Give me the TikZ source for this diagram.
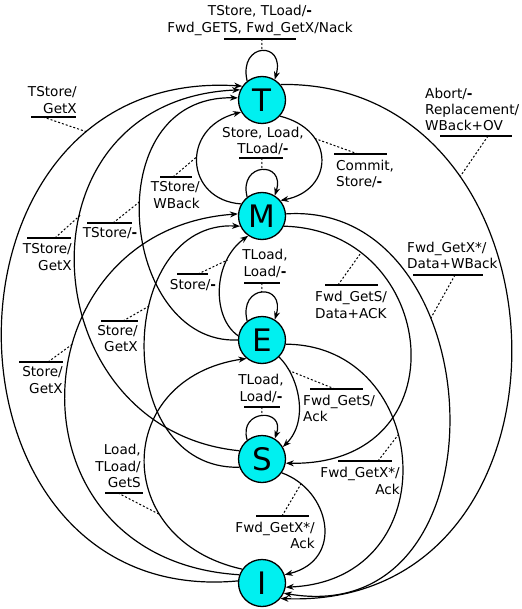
\documentclass[tikz,border=0pt]{standalone}
\usepackage{fontspec}
\setmainfont{DejaVu Sans}
\usetikzlibrary{arrows.meta}
\definecolor{statefill}{RGB}{0,240,240}
\begin{document}
\begin{tikzpicture}[x=1pt,y=-1pt,
  state/.style={circle,draw=black,line width=1.3pt,fill=statefill,minimum size=47pt,inner sep=0pt,font=\fontsize{31}{31}\selectfont},
  edge/.style={line width=1.2pt,-{Stealth[length=8pt,width=6pt,inset=2.5pt]}},
  lbl/.style={inner sep=0pt,font=\fontsize{13.6}{16.3}\selectfont},
  bar/.style={line width=1.2pt},
  dotline/.style={line width=1pt,dash pattern=on 2pt off 2pt}]
\useasboundingbox (0,0) rectangle (521,609);

% states
\node[state] (T) at (262,100) {T};
\node[state] (M) at (262,216) {M};
\node[state] (E) at (262,340) {E};
\node[state] (S) at (262,459) {S};
\node[state] (I) at (262,583) {I};

% self loops
\draw[edge] (T.128) .. controls +(-9,-39) and +(11,-39) .. (T.58) coordinate[pos=0.5] (tloop);
\draw[edge] (M.128) .. controls +(-9,-35) and +(11,-35) .. (M.58) coordinate[pos=0.5] (mloop);
\draw[edge] (E.128) .. controls +(-9,-37) and +(11,-37) .. (E.58) coordinate[pos=0.5] (eloop);
\draw[edge] (S.128) .. controls +(-9,-31) and +(11,-31) .. (S.58) coordinate[pos=0.5] (sloop);

% transitions
\draw[edge] (T.-42) .. controls (336,130) and (334,190) .. (M.40) coordinate[pos=0.3] (tm);
\draw[edge] (M.150) .. controls (185,200) and (180,128) .. (T.-150) coordinate[pos=0.55] (mt);
\draw[edge] (E.180) .. controls (120,345) and (95,95) .. (T.175) coordinate[pos=0.55] (et);
\draw[edge] (E.170) .. controls (212,318) and (212,262) .. (M.-125) coordinate[pos=0.75] (em);
\draw[edge] (S.160) .. controls (30,430) and (10,100) .. (T.155) coordinate[pos=0.6] (st);
\draw[edge] (S.-160) .. controls (110,470) and (116,220) .. (M.-155) coordinate[pos=0.61] (sm);
\draw[edge] (I.175) .. controls (-75,610) and (-80,65) .. (T.145) coordinate[pos=0.8] (it);
\draw[edge] (I.160) .. controls (0,560) and (15,230) .. (M.175) coordinate[pos=0.6] (im);
\draw[edge] (I.145) .. controls (110,540) and (113,378) .. (E.-130) coordinate[pos=0.3] (ie);
\draw[edge] (T.40) .. controls (580,80) and (596,610) .. (I.-40) coordinate[pos=0.27] (ti);
\draw[edge] (M.5) .. controls (495,200) and (513,632) .. (I.-25) coordinate[pos=0.34] (mi);
\draw[edge] (M.-25) .. controls (440,230) and (464,466) .. (S.-10) coordinate[pos=0.2] (ms);
\draw[edge] (E.-10) .. controls (432,345) and (450,580) .. (I.-10) coordinate[pos=0.42] (ei);
\draw[edge] (E.-45) .. controls (298,375) and (310,420) .. (S.30) coordinate[pos=0.2] (es);
\draw[edge] (S.-35) .. controls (330,490) and (345,560) .. (I.20) coordinate[pos=0.15] (si);

% labels
\node[lbl,align=center] (ltl) at (260,20.5) {TStore, TLoad/\textbf{-}\\Fwd\_GETS, Fwd\_GetX/Nack};
\draw[bar] (224,39) -- (296,39); \coordinate (btl) at (262,39);
\draw[dotline] (btl) -- (tloop);

\node[lbl,align=center] (lml) at (263,141) {Store, Load,\\TLoad/\textbf{-}};
\draw[bar] (239,158) -- (283,158); \coordinate (bml) at (262,158);
\draw[dotline] (bml) -- (mloop);

\node[lbl,align=center] (lel) at (265,263.5) {TLoad,\\Load/\textbf{-}};
\draw[bar] (244,283) -- (280,283); \coordinate (bel) at (262,283);
\draw[dotline] (bel) -- (eloop);

\node[lbl,align=center] (lsl) at (261,388.5) {TLoad,\\Load/\textbf{-}};
\draw[bar] (244,407) -- (280,407); \coordinate (bsl) at (262,407);
\draw[dotline] (bsl) -- (sloop);

\node[lbl,align=right,anchor=east] (lit) at (77,100) {TStore/\\GetX};
\draw[bar] (31,117) -- (76,117); \coordinate (bit) at (43,117);
\draw[dotline] (bit) -- (it);

\node[lbl,align=right,anchor=east] (lmt) at (200,195) {TStore/\\WBack};
\draw[bar] (160,177) -- (192,177); \coordinate (bmt) at (173,177);
\draw[dotline] (bmt) -- (mt);

\node[lbl] (let) at (110,233) {TStore/\textbf{-}};
\draw[bar] (87,223) -- (132,223); \coordinate (bet) at (113,223);
\draw[dotline] (bet) -- (et);

\node[lbl,align=right,anchor=east] (lst) at (72,257) {TStore/\\GetX};
\draw[bar] (27,238) -- (71,238); \coordinate (bst) at (55,238);
\draw[dotline] (bst) -- (st);

\node[lbl] (lem) at (193,285) {Store/\textbf{-}};
\draw[bar] (177,274) -- (208,274); \coordinate (bem) at (198,274);
\draw[dotline] (bem) -- (em);

\node[lbl,align=right,anchor=east] (lsm) at (138,338.5) {Store/\\GetX};
\draw[bar] (101,321) -- (138,321); \coordinate (bsm) at (123,321);
\draw[dotline] (bsm) -- (sm);

\node[lbl,align=right,anchor=east] (lim) at (63,380) {Store/\\GetX};
\draw[bar] (19,362) -- (63,362); \coordinate (bim) at (48,362);
\draw[dotline] (bim) -- (im);

\node[lbl,align=right,anchor=east] (lie) at (141,466) {Load,\\TLoad/\\GetS};
\draw[bar] (105,493) -- (143,493); \coordinate (bie) at (118,493);
\draw[dotline] (bie) -- (ie);

\node[lbl,align=left,anchor=west] (lti) at (425,109.5) {Abort/\textbf{-}\\Replacement/\\WBack+OV};
\draw[bar] (440,136) -- (512,136); \coordinate (bti) at (488,136);
\draw[dotline] (bti) -- (ti);

\node[lbl,align=left,anchor=west] (ltm) at (336,174) {Commit,\\Store/\textbf{-}};
\draw[bar] (334,154) -- (387,154); \coordinate (btm) at (358,154);
\draw[dotline] (btm) -- (tm);

\node[lbl,align=left,anchor=west] (lmi) at (407,255.5) {Fwd\_GetX*/\\Data+WBack};
\draw[bar] (413,275) -- (483,275); \coordinate (bmi) at (455,275);
\draw[dotline] (bmi) -- (mi);

\node[lbl,align=left,anchor=west] (lms) at (315,305) {Fwd\_GetS/\\Data+ACK};
\draw[bar] (325,285) -- (378,285); \coordinate (bms) at (338,285);
\draw[dotline] (bms) -- (ms);

\node[lbl,align=left,anchor=west] (les) at (303,408.5) {Fwd\_GetS/\\Ack};
\draw[bar] (310,389) -- (363,389); \coordinate (bes) at (335,389);
\draw[dotline] (bes) -- (es);

\node[lbl,align=right,anchor=east] (lei) at (400,481) {Fwd\_GetX*/\\Ack};
\draw[bar] (338,461) -- (392,461); \coordinate (bei) at (378,461);
\draw[dotline] (bei) -- (ei);

\node[lbl,align=right,anchor=east] (lsi) at (315,535.5) {Fwd\_GetX*/\\Ack};
\draw[bar] (256,516) -- (309,516); \coordinate (bsi) at (282,516);
\draw[dotline] (bsi) -- (si);
\end{tikzpicture}
\end{document}
